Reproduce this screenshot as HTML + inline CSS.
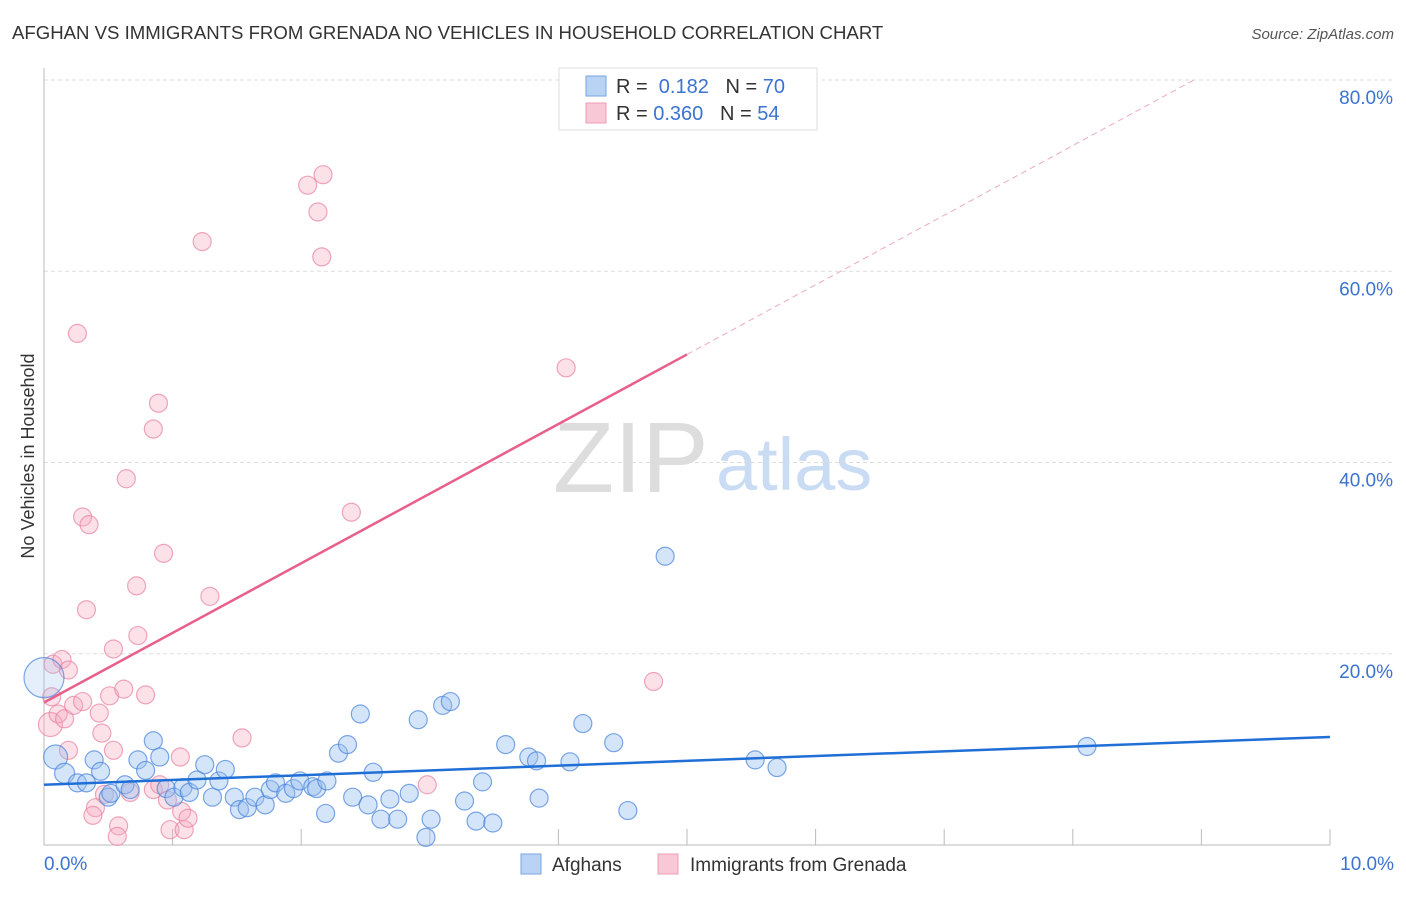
<!DOCTYPE html>
<html><head><meta charset="utf-8"><style>
body{margin:0;background:#fff;font-family:"Liberation Sans",sans-serif}
svg text{font-family:"Liberation Sans",sans-serif}
</style></head><body>
<svg width="1406" height="892">
<text x="12" y="39" font-size="18.6" fill="#333">AFGHAN VS IMMIGRANTS FROM GRENADA NO VEHICLES IN HOUSEHOLD CORRELATION CHART</text>
<text x="1394" y="39" font-size="15" fill="#555" text-anchor="end" font-style="italic">Source: ZipAtlas.com</text>
<text x="553" y="492" font-size="100" fill="#ddd" font-family="Liberation Serif">ZIP</text>
<text x="716" y="490" font-size="74" fill="#c9dcf3">atlas</text>
<g id="grid"></g>
<g id="axes"></g>
<g id="marks"></g>
<text transform="translate(34,456) rotate(-90)" font-size="18" fill="#333" text-anchor="middle">No Vehicles in Household</text>
<g>
<rect x="559" y="68" width="258" height="62" fill="#fff" stroke="#ddd"/>
<rect x="586" y="76" width="20" height="20" fill="#b9d3f5" stroke="#7aa6e0"/>
<rect x="586" y="103" width="20" height="20" fill="#f9c8d6" stroke="#ee9cb4"/>
<text x="616" y="93" font-size="20" fill="#333">R = <tspan fill="#3c73d0">&#160;0.182</tspan>&#160;&#160;&#160;N = <tspan fill="#3c73d0">70</tspan></text>
<text x="616" y="120" font-size="20" fill="#333">R = <tspan fill="#3c73d0">0.360</tspan>&#160;&#160;&#160;N = <tspan fill="#3c73d0">54</tspan></text>
</g>
<g>
<rect x="521" y="854" width="20" height="20" fill="#b9d3f5" stroke="#7aa6e0"/>
<text x="552" y="871" font-size="19" fill="#333">Afghans</text>
<rect x="658" y="854" width="20" height="20" fill="#f9c8d6" stroke="#ee9cb4"/>
<text x="690" y="871" font-size="19" fill="#333">Immigrants from Grenada</text>
</g>
</svg>
<script>
const yTicks=[20,40,60,80];
const xTickLabels=["0.0%","10.0%"];
const blueX=[0.09,0.16,0.26,0.33,0.39,0.44,0.50,0.52,0.63,0.67,0.73,0.79,0.85,0.90,0.95,1.01,1.08,1.13,1.19,1.25,1.31,1.36,1.41,1.48,1.52,1.58,1.64,1.72,1.76,1.80,1.88,1.94,1.99,2.09,2.12,2.19,2.20,2.29,2.36,2.40,2.46,2.52,2.56,2.62,2.69,2.75,2.84,2.91,2.97,3.01,3.10,3.16,3.27,3.36,3.41,3.49,3.59,3.77,3.83,3.85,4.09,4.19,4.43,4.54,4.83,5.53,5.70,8.11,0.0];
const blueY=[9.2,7.5,6.5,6.5,8.9,7.7,5.0,5.4,6.3,5.8,8.9,7.8,10.9,9.2,5.9,5.0,6.0,5.5,6.8,8.4,5.0,6.7,7.9,5.0,3.7,3.9,5.0,4.2,5.8,6.5,5.4,5.9,6.7,6.1,5.9,3.3,6.7,9.6,10.5,5.0,13.7,4.2,7.6,2.7,4.8,2.7,5.4,13.1,0.8,2.7,14.6,15.0,4.6,2.5,6.6,2.3,10.5,9.2,8.8,4.9,8.7,12.7,10.7,3.6,30.2,8.9,8.1,10.3,17.5];
const blueR=[12,10,9,9,9,9,9,9,9,9,9,9,9,9,9,9,9,9,9,9,9,9,9,9,9,9,9,9,9,9,9,9,9,9,9,9,9,9,9,9,9,9,9,9,9,9,9,9,9,9,9,9,9,9,9,9,9,9,9,9,9,9,9,9,9,9,9,9,20];
const pinkX=[0.07,0.14,0.19,0.06,0.05,0.11,0.16,0.23,0.30,0.19,0.26,0.30,0.35,0.33,0.43,0.45,0.51,0.54,0.54,0.62,0.64,0.72,0.73,0.79,0.85,0.89,0.93,0.47,0.40,0.38,0.58,0.57,0.67,0.85,0.90,0.96,0.98,1.06,1.07,1.09,1.12,1.23,1.29,1.54,2.05,2.13,2.17,2.16,2.39,2.98,4.06,4.74];
const pinkY=[18.9,19.4,18.3,15.5,12.6,13.7,13.2,14.6,15.0,9.9,53.5,34.3,33.5,24.6,13.8,11.7,15.6,9.9,20.5,16.3,38.3,27.1,21.9,15.7,43.5,46.2,30.5,5.3,3.9,3.1,2.0,0.9,5.5,5.8,6.3,4.7,1.6,9.2,3.5,1.6,2.8,63.1,26.0,11.2,69.0,66.2,70.1,61.5,34.8,6.3,49.9,17.1];
const blueLine=[6.3,11.3];
const pinkLine=[14.9,7.28];
const X0=44,X1=1330,Y0=845,PX=(X1-X0)/10,PY=(845-80)/80;
const sx=v=>X0+v*PX, sy=v=>Y0-v*PY;
const NS="http://www.w3.org/2000/svg";
function mk(t,a,p){const e=document.createElementNS(NS,t);for(const k in a)e.setAttribute(k,a[k]);p.appendChild(e);return e;}
const grid=document.getElementById('grid'),axes=document.getElementById('axes'),marks=document.getElementById('marks');
yTicks.forEach(v=>{
 const l=mk('line',{x1:X0,x2:1395,y1:sy(v),y2:sy(v),stroke:'#ddd','stroke-dasharray':'4,3'},grid);
 
 
 const t=mk('text',{x:1393,y:sy(v)+24,'font-size':19,fill:'#3c73d0','text-anchor':'end'},axes);
 t.textContent=v.toFixed(1)+'%';
 
 
});
mk('line',{x1:X0,x2:X0,y1:68,y2:Y0,stroke:'#bbb'},axes);
mk('line',{x1:X0,x2:X1,y1:Y0,y2:Y0,stroke:'#bbb'},axes);
for(let i=1;i<=10;i++){const l=mk('line',{x1:X0+i*PX,x2:X0+i*PX,y1:Y0-16,y2:Y0,stroke:'#bbb'},axes);
 
 }
const tx0=mk('text',{x:X0,y:870,'font-size':19,fill:'#3c73d0'},axes);tx0.textContent=xTickLabels[0];


const tx1=mk('text',{x:1394,y:870,'font-size':19,fill:'#3c73d0','text-anchor':'end'},axes);tx1.textContent=xTickLabels[1];


pinkX.forEach((x,i)=>{const c=mk('circle',{cx:sx(x),cy:sy(pinkY[i]),r:i==4?12:9,fill:'rgba(246,168,192,0.35)',stroke:'rgba(232,130,160,0.7)','stroke-width':1.2},marks);
 
 });
blueX.forEach((x,i)=>{const c=mk('circle',{cx:sx(x),cy:sy(blueY[i]),r:blueR[i],fill:i==68?'rgba(150,190,240,0.25)':'rgba(150,190,240,0.4)',stroke:'rgba(70,130,220,0.7)','stroke-width':1.2},marks);
 
 });
const bl=mk('line',{x1:sx(0),y1:sy(blueLine[0]),x2:sx(10),y2:sy(blueLine[1]),stroke:'#1f6fd6','stroke-width':2.5},marks);


const pl=mk('line',{x1:sx(0),y1:sy(pinkLine[0]),x2:sx(5),y2:sy(pinkLine[0]+5*pinkLine[1]),stroke:'#e8608a','stroke-width':2.5},marks);


const xe=(80-pinkLine[0])/pinkLine[1];
const pd=mk('line',{x1:sx(5),y1:sy(pinkLine[0]+5*pinkLine[1]),x2:sx(xe),y2:sy(80),stroke:'#eeaabf','stroke-width':1,'stroke-dasharray':'6,4'},marks);


</script>
</body></html>
